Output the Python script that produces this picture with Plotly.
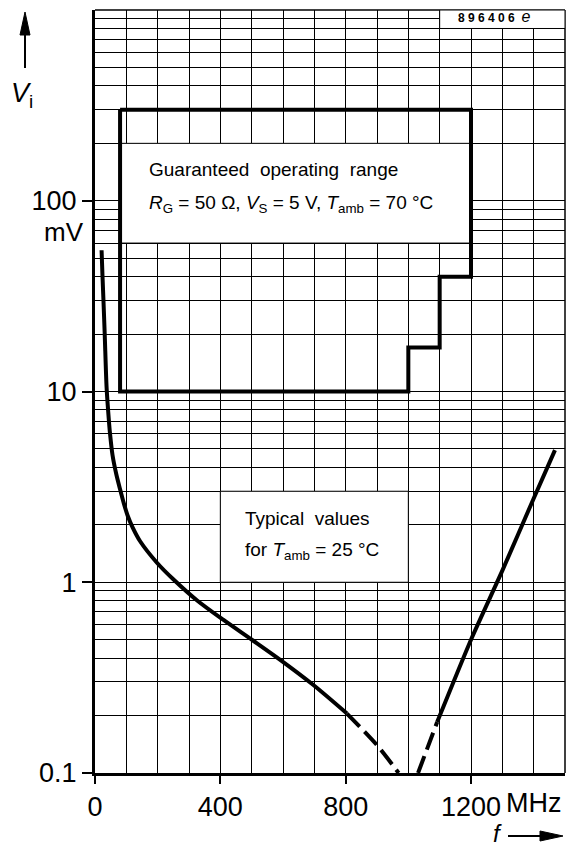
import math
import plotly.graph_objects as go

# ---------------- data ----------------
# Typical curve, T_amb = 25 °C  (f in MHz, Vi in mV)
typ_left_solid_f = [21, 24, 27, 31, 37, 42, 48, 56, 68, 80, 92, 104, 120, 144, 197, 249, 327, 409, 504, 590, 696, 804]
typ_left_solid_v = [55, 40, 30, 20, 10.5, 7.9, 6.0, 4.63, 3.68, 3.07, 2.59, 2.24, 1.94, 1.64, 1.27, 1.04, 0.80, 0.636, 0.495, 0.393, 0.29, 0.205]
typ_left_dash_f = [804, 900, 969]
typ_left_dash_v = [0.205, 0.140, 0.1]
typ_right_dash_f = [1031, 1092]
typ_right_dash_v = [0.1, 0.185]
typ_right_solid_f = [1092, 1200, 1300, 1400, 1468]
typ_right_solid_v = [0.185, 0.50, 1.15, 2.75, 4.93]

# Guaranteed operating range (boundary)
range_f = [80, 80, 1000, 1000, 1100, 1100, 1200, 1200, 80]
range_v = [300, 10, 10, 17, 17, 40, 40, 300, 300]

# axes
x_tick_vals = [0, 400, 800, 1200]
x_tick_text = ["0", "400", "800", "1200"]
x_grid_vals = [100, 200, 300, 500, 600, 700, 900, 1000, 1100, 1300, 1400, 1500]
y_tick_vals = [0.1, 1, 10, 100]
y_tick_text = ["0.1", "1", "10", "100"]
y_grid_vals = [k * d for d in [0.1, 1, 10, 100] for k in range(2, 10)] + [1000]

FONT = "Liberation Sans, Arial, Helvetica, sans-serif"

W, H = 566, 854
ML, MR, MT, MB = 95, 1, 10, 81
PW, PH = W - ML - MR, H - MT - MB


def px(x):  # pixel -> paper x
    return (x - ML) / PW


def py(y):  # pixel -> paper y
    return (H - MB - y) / PH


fig = go.Figure()

# white patches behind text blocks (grid hidden there)
def white_box(x0, x1, y0, y1):
    fig.add_shape(type="rect", xref="x", yref="y", x0=x0, x1=x1, y0=y0, y1=y1,
                  fillcolor="white", line=dict(color="black", width=1), layer="between")

white_box(80, 1200, 60, 200)
white_box(400, 1000, 1, 3)
white_box(1100, 1500, 800, 1000)

# top/right border
fig.add_shape(type="line", xref="paper", yref="paper", x0=0, x1=1, y0=1, y1=1,
              line=dict(color="black", width=1.5), layer="between")
fig.add_shape(type="line", xref="paper", yref="paper", x0=1, x1=1, y0=0, y1=1,
              line=dict(color="black", width=1.5), layer="between")

fig.add_trace(go.Scatter(x=range_f, y=range_v, mode="lines",
                         line=dict(color="black", width=4), hoverinfo="skip"))
fig.add_trace(go.Scatter(x=typ_left_solid_f, y=typ_left_solid_v, mode="lines",
                         line=dict(color="black", width=4, shape="spline", smoothing=0.8),
                         hoverinfo="skip"))
fig.add_trace(go.Scatter(x=typ_left_dash_f, y=typ_left_dash_v, mode="lines",
                         line=dict(color="black", width=4, dash="18px,7px", shape="spline", smoothing=0.8),
                         hoverinfo="skip"))
fig.add_trace(go.Scatter(x=typ_right_dash_f, y=typ_right_dash_v, mode="lines",
                         line=dict(color="black", width=4, dash="18px,7px"),
                         hoverinfo="skip"))
fig.add_trace(go.Scatter(x=typ_right_solid_f, y=typ_right_solid_v, mode="lines",
                         line=dict(color="black", width=4, shape="spline", smoothing=0.6),
                         hoverinfo="skip"))

# text blocks (annotation y on a log axis is given in log10 units)
txt_font = dict(family=FONT, size=19, color="black")
fig.add_annotation(x=166, y=math.log10(145), xref="x", yref="y", xanchor="left", yanchor="middle",
                   text="Guaranteed&nbsp; operating&nbsp; range", showarrow=False, font=txt_font)
fig.add_annotation(x=166, y=math.log10(96), xref="x", yref="y", xanchor="left", yanchor="middle",
                   text="<i>R</i><sub>G</sub> = 50 Ω, <i>V</i><sub>S</sub> = 5 V, <i>T</i><sub>amb</sub> = 70 °C",
                   showarrow=False, font=txt_font)
fig.add_annotation(x=472, y=math.log10(2.17), xref="x", yref="y", xanchor="left", yanchor="middle",
                   text="Typical&nbsp; values", showarrow=False, font=txt_font)
fig.add_annotation(x=472, y=math.log10(1.45), xref="x", yref="y", xanchor="left", yanchor="middle",
                   text="for <i>T</i><sub>amb</sub> = 25 °C", showarrow=False, font=txt_font)

# figure code label
fig.add_annotation(x=px(494), y=py(17), xref="paper", yref="paper", xanchor="center", yanchor="middle",
                   text="<b>8 9 6 4 0 6</b>&nbsp; <span style='font-size:16px'><i>e</i></span>",
                   showarrow=False, font=dict(family=FONT, size=12, color="black"))

# unit labels
fig.add_annotation(x=px(86), y=2, xref="paper", yref="y", xanchor="right", yanchor="top",
                   yshift=-14, text="mV", showarrow=False,
                   font=dict(family=FONT, size=26, color="black"))
fig.add_annotation(x=px(504), y=-1, xref="paper", yref="y", xanchor="left", yanchor="top",
                   yshift=-13, text="MHz", showarrow=False,
                   font=dict(family=FONT, size=27, color="black"))

# V_i axis title with arrow (drawn as shapes)
fig.add_shape(type="line", xref="paper", yref="paper", x0=px(25), x1=px(25), y0=py(68), y1=py(30),
              line=dict(color="black", width=2))
fig.add_shape(type="path", xref="paper", yref="paper",
              path=f"M {px(20)},{py(35)} L {px(30)},{py(35)} L {px(25)},{py(12)} Z",
              fillcolor="black", line=dict(color="black", width=1))
fig.add_annotation(x=px(22), y=py(95), xref="paper", yref="paper", xanchor="center", yanchor="middle",
                   text="<i>V</i><sub>i</sub>", showarrow=False,
                   font=dict(family=FONT, size=27, color="black"))
# f axis title with arrow
fig.add_shape(type="line", xref="paper", yref="paper", x0=px(508), x1=px(545), y0=py(836), y1=py(836),
              line=dict(color="black", width=2))
fig.add_shape(type="path", xref="paper", yref="paper",
              path=f"M {px(540)},{py(831)} L {px(540)},{py(841)} L {px(563)},{py(836)} Z",
              fillcolor="black", line=dict(color="black", width=1))
fig.add_annotation(x=px(497), y=py(834), xref="paper", yref="paper", xanchor="center", yanchor="middle",
                   text="<i>f</i>", showarrow=False,
                   font=dict(family=FONT, size=24, color="black"))

fig.update_xaxes(range=[0, 1500], tickmode="array", tickvals=x_tick_vals, ticktext=x_tick_text,
                 ticks="outside", ticklen=8, tickwidth=1.5, tickcolor="black",
                 showgrid=True, gridcolor="black", gridwidth=1,
                 minor=dict(tickmode="array", tickvals=x_grid_vals, showgrid=True,
                            gridcolor="black", gridwidth=1, ticks=""),
                 showline=True, linecolor="black", linewidth=3, zeroline=False, automargin=False,
                 tickfont=dict(family=FONT, size=27, color="black"))
fig.update_yaxes(type="log", range=[-1, 3], tickmode="array", tickvals=y_tick_vals, ticktext=y_tick_text,
                 ticks="outside", ticklen=10, tickwidth=1.5, tickcolor="black",
                 showgrid=True, gridcolor="black", gridwidth=1,
                 minor=dict(tickmode="array", tickvals=y_grid_vals, showgrid=True,
                            gridcolor="black", gridwidth=1, ticks=""),
                 showline=True, linecolor="black", linewidth=3, zeroline=False, automargin=False,
                 tickfont=dict(family=FONT, size=27, color="black"))

fig.update_layout(width=W, height=H, margin=dict(l=ML, r=MR, t=MT, b=MB),
                  paper_bgcolor="white", plot_bgcolor="white", showlegend=False)

fig.write_html("out.html", config={"displayModeBar": False},
               post_script="document.body.style.margin='0';document.body.style.overflow='hidden';")
